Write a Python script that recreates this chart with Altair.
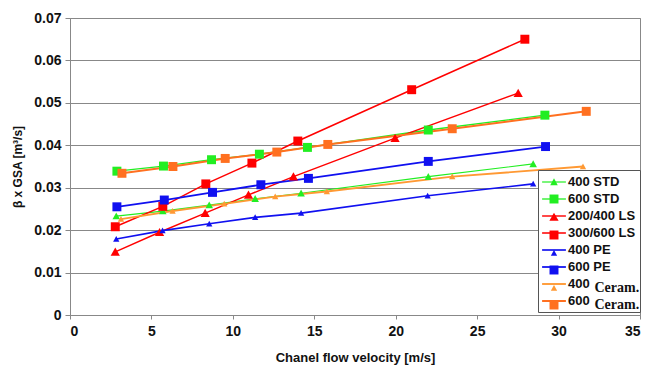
import altair as alt
import pandas as pd

series_names = ["400 STD", "600 STD", "200/400 LS", "300/600 LS",
                "400 PE", "600 PE", "400 Ceram.", "600 Ceram."]
series_colors = ["#22EE22", "#22EE22", "#FF0000", "#FF0000",
                 "#1010F0", "#1010F0", "#FF9933", "#FF7020"]

x_400std = [2.84, 5.70, 8.55, 11.37, 14.19, 22.00, 28.44]
y_400std = [0.0233, 0.0245, 0.0259, 0.0274, 0.0287, 0.0326, 0.0356]
x_600std = [2.88, 5.74, 8.69, 11.63, 14.58, 22.00, 29.16]
y_600std = [0.0339, 0.0351, 0.0366, 0.0379, 0.0395, 0.0436, 0.0471]
x_200400ls = [2.78, 5.50, 8.30, 10.96, 13.72, 19.96, 27.52]
y_200400ls = [0.0149, 0.0195, 0.0240, 0.0283, 0.0326, 0.0417, 0.0523]
x_300600ls = [2.78, 5.70, 8.34, 11.17, 13.99, 20.98, 27.93]
y_300600ls = [0.0208, 0.0256, 0.0309, 0.0358, 0.0410, 0.0531, 0.0650]
x_400pe = [2.84, 5.68, 8.55, 11.37, 14.19, 21.96, 28.44]
y_400pe = [0.0179, 0.0199, 0.0215, 0.0230, 0.0240, 0.0281, 0.0309]
x_600pe = [2.88, 5.79, 8.75, 11.72, 14.64, 22.00, 29.20]
y_600pe = [0.0255, 0.0271, 0.0289, 0.0307, 0.0322, 0.0362, 0.0397]
x_400cer = [3.13, 6.30, 9.47, 12.60, 15.77, 23.47, 31.50]
y_400cer = [0.0226, 0.0245, 0.0262, 0.0279, 0.0291, 0.0326, 0.0350]
x_600cer = [3.19, 6.32, 9.53, 12.70, 15.83, 23.47, 31.70]
y_600cer = [0.0334, 0.0350, 0.0369, 0.0384, 0.0402, 0.0439, 0.0480]

xs = [x_400std, x_600std, x_200400ls, x_300600ls, x_400pe, x_600pe, x_400cer, x_600cer]
ys = [y_400std, y_600std, y_200400ls, y_300600ls, y_400pe, y_600pe, y_400cer, y_600cer]

rows = []
for name, xv, yv in zip(series_names, xs, ys):
    for a, b in zip(xv, yv):
        rows.append({"series": name, "mk": "m:" + name, "v": a, "g": b})
df = pd.DataFrame(rows)

mk_names = ["m:" + s for s in series_names]

# marker shapes (unit paths), scaled by symbol size (sqrt(196)/2 = 7 px per unit)
tri_big = "M0,-0.62L0.66,0.55L-0.66,0.55Z"
tri_mid = "M0,-0.52L0.54,0.46L-0.54,0.46Z"
tri_small = "M0,-0.44L0.45,0.38L-0.45,0.38Z"
square = "M-0.64,-0.64H0.64V0.64H-0.64Z"
shapes = [tri_mid, square, tri_big, square, tri_small, square, tri_small, square]
widths = [1.2, 2, 1.2, 2, 1.2, 2, 1.2, 2]

SYM = 196
LX, LY = 468, 152
font = "Liberation Sans"

xenc = alt.X("v:Q", scale=alt.Scale(domain=[0, 35], nice=False),
             axis=alt.Axis(values=[0, 5, 10, 15, 20, 25, 30, 35], grid=False,
                           title="Chanel flow velocity [m/s]",
                           labelFont=font, labelFontSize=14, labelFontWeight="bold",
                           labelColor="#111", tickColor="#888", tickSize=4,
                           domainColor="#888", labelPadding=5,
                           titleFont=font, titleFontSize=13, titleFontWeight="bold",
                           titleColor="#111", titlePadding=13))
yenc = alt.Y("g:Q", scale=alt.Scale(domain=[0, 0.07], nice=False),
             axis=alt.Axis(values=[0, 0.01, 0.02, 0.03, 0.04, 0.05, 0.06, 0.07],
                           format=".2~f", grid=True, gridColor="#888", gridWidth=1,
                           labelFont=font, labelFontSize=14, labelFontWeight="bold",
                           labelColor="#111", tickColor="#888", tickSize=5,
                           domainColor="#888", labelPadding=4,
                           title="β x GSA [m³/s]",
                           titleFont=font, titleFontSize=12, titleFontWeight="bold",
                           titleColor="#111", titlePadding=9))

lines = alt.Chart(df).mark_line().encode(
    x=xenc, y=yenc,
    stroke=alt.Stroke("series:N",
                      scale=alt.Scale(domain=series_names, range=series_colors),
                      legend=alt.Legend(orient="none", legendX=LX, legendY=LY,
                                        title=None, symbolType="M-1.7,0H1.7",
                                        symbolSize=SYM, symbolStrokeWidth=1.6,
                                        symbolOffset=4,
                                        labelFont=font, labelFontSize=13,
                                        labelFontWeight="bold", labelColor="#111",
                                        labelOffset=6, rowPadding=2,
                                        labelExpr="replace(datum.label, 'Ceram.', '')",
                                        fillColor="white", strokeColor="#555",
                                        padding=4, zindex=1)),
    strokeWidth=alt.StrokeWidth("series:N",
                                scale=alt.Scale(domain=series_names, range=widths),
                                legend=None),
    detail="series:N",
)

mk_legend = alt.Legend(orient="none", legendX=LX, legendY=LY, title=None,
                       symbolSize=SYM, symbolStrokeWidth=1.6,
                       symbolStrokeColor="transparent", symbolOffset=4,
                       labelFont="Liberation Serif", labelFontSize=14,
                       labelFontWeight="bold", labelColor="#111",
                       labelOffset=32.5, rowPadding=2,
                       labelExpr="indexof(datum.label, 'Ceram') >= 0 ? 'Ceram.' : '\u00a0'",
                       padding=4, zindex=2)

points = alt.Chart(df).mark_point(filled=True, opacity=1, size=SYM, strokeWidth=0).encode(
    x=xenc, y=yenc,
    fill=alt.Fill("mk:N", scale=alt.Scale(domain=mk_names, range=series_colors),
                  legend=mk_legend),
    shape=alt.Shape("mk:N", scale=alt.Scale(domain=mk_names, range=shapes),
                    legend=mk_legend),
)

chart = alt.layer(lines, points).properties(
    width=570, height=297,
    autosize=alt.AutoSizeParams(type="none"),
    padding={"left": 70, "top": 18, "right": 6, "bottom": 51},
    background="white",
).configure_view(stroke="#888", strokeWidth=1)

chart.save("out.html", embed_options={"renderer": "svg", "actions": False})
